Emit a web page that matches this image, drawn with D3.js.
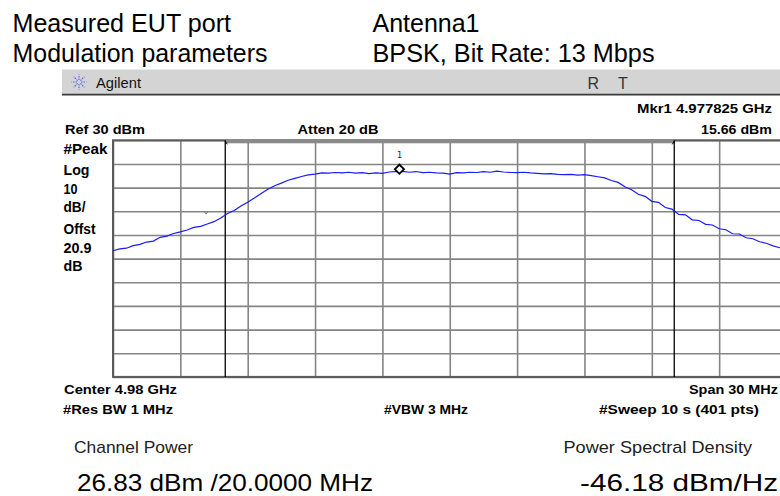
<!DOCTYPE html>
<html>
<head>
<meta charset="utf-8">
<script src="https://cdn.jsdelivr.net/npm/d3@7"></script>
<style>
html,body{margin:0;padding:0;background:#fff;}
svg{display:block;}
</style>
</head>
<body>
<script>
// ---- data ----
const freqMHz = [
4965.0,4965.3,4965.6,4965.9,4966.2,4966.5,4966.8,4967.1,4967.4,4967.7,
4968.0,4968.3,4968.6,4968.9,4969.2,4969.5,4969.8,4970.1,4970.4,4970.7,
4971.0,4971.3,4971.6,4971.9,4972.2,4972.5,4972.8,4973.1,4973.4,4973.7,
4974.0,4974.3,4974.6,4974.9,4975.2,4975.5,4975.8,4976.1,4976.4,4976.7,
4977.0,4977.3,4977.6,4977.9,4978.2,4978.5,4978.8,4979.1,4979.4,4979.7,
4980.0,4980.3,4980.6,4980.9,4981.2,4981.5,4981.8,4982.1,4982.4,4982.7,
4983.0,4983.3,4983.6,4983.9,4984.2,4984.5,4984.8,4985.1,4985.4,4985.7,
4986.0,4986.3,4986.6,4986.9,4987.2,4987.5,4987.8,4988.1,4988.4,4988.7,
4989.0,4989.3,4989.6,4989.9,4990.2,4990.5,4990.8,4991.1,4991.4,4991.7,
4992.0,4992.3,4992.6,4992.9,4993.2,4993.5,4993.8,4994.1,4994.4,4994.7,
4995.0];
const levelDbm = [
-16.7,-15.9,-15.6,-14.5,-14.0,-13.0,-12.6,-11.0,-10.5,-9.4,
-8.7,-7.9,-6.8,-6.4,-5.4,-4.4,-2.8,-0.9,0.3,2.2,
3.8,5.6,7.5,9.3,10.8,11.9,13.1,13.9,14.7,15.4,
15.7,16.2,16.1,16.4,16.2,16.5,16.1,16.3,15.9,16.2,
16.0,16.6,16.8,16.9,16.5,16.8,16.3,16.5,16.2,16.1,
15.7,16.3,16.2,16.5,16.4,16.8,16.5,17.0,16.6,16.4,
16.3,16.5,16.2,16.0,15.8,15.9,15.6,15.5,15.6,15.3,
15.5,15.1,14.6,14.1,13.0,12.2,10.4,9.1,7.2,6.3,
4.2,3.8,1.6,0.9,-1.3,-1.5,-3.6,-3.9,-5.5,-5.8,
-7.4,-7.8,-9.5,-9.6,-11.2,-11.6,-12.9,-13.5,-14.6,-15.4,
-16.3];
const gridFreqs = [4965,4968,4971,4974,4977,4980,4983,4986,4989,4992,4995];
const gridLevels = [30,20,10,0,-10,-20,-30,-40,-50,-60,-70];
const channelEdges = [4970, 4990];
const markerFreq = 4977.825, markerLevel = 15.66;
const auxMarkFreq = 4969.15, auxMarkLevel = -0.8;
const leftLabels = ["#Peak","Log","10","dB/","Offst","20.9","dB"];

// ---- drawing ----
const W = 780, H = 496;
const svg = d3.select("body").append("svg").attr("width", W).attr("height", H);

const x = d3.scaleLinear().domain([4965, 4995]).range([113, 786.5]);
const y = d3.scaleLinear().domain([30, -70]).range([140.3, 376.9]);

function txt(s, px, py, o) {
  o = o || {};
  const t = svg.append("text").text(s)
    .attr("x", px).attr("y", py)
    .attr("font-family", o.family || "'Liberation Sans', Arial, sans-serif")
    .attr("font-size", o.size || 13)
    .attr("font-weight", o.weight || "normal")
    .attr("fill", o.fill || "#000")
    .attr("text-anchor", o.anchor || "start");
  if (o.len) t.attr("textLength", o.len).attr("lengthAdjust", "spacingAndGlyphs");
  return t;
}

// header texts
txt("Measured EUT port", 12.5, 31.5, {size: 25, len: 218.5});
txt("Antenna1", 372.5, 31.5, {size: 25, len: 107});
txt("Modulation parameters", 12.5, 62, {size: 25, len: 255});
txt("BPSK, Bit Rate: 13 Mbps", 372.5, 62, {size: 25, len: 282});

// instrument title bar
svg.append("rect").attr("x", 62).attr("y", 69.5).attr("width", W - 62).attr("height", 25)
  .attr("fill", "#d4d4d4");
svg.append("line").attr("x1", 62).attr("x2", W).attr("y1", 94.6).attr("y2", 94.6)
  .attr("stroke", "#3a3a3a").attr("stroke-width", 1.6);
// agilent spark
const star = svg.append("g").attr("transform", "translate(79,82)");
for (let i = 0; i < 8; i++) {
  const a = i * Math.PI / 4;
  star.append("line")
    .attr("x1", Math.cos(a) * 2).attr("y1", Math.sin(a) * 2)
    .attr("x2", Math.cos(a) * 7.5).attr("y2", Math.sin(a) * 7.5)
    .attr("stroke", "#5a5af0").attr("stroke-width", 1.1).attr("stroke-dasharray", "1.5,1");
}
txt("Agilent", 96, 88, {size: 15, len: 45, fill: "#111"});
txt("R", 587.5, 88.5, {size: 16, fill: "#333"});
txt("T", 618, 88.5, {size: 16, fill: "#333"});

// bold annotation labels
const bold = {size: 13.5, weight: "bold", family: "'Liberation Sans Narrow','Liberation Sans',Arial,sans-serif"};
txt("Mkr1  4.977825 GHz", 772, 113, Object.assign({}, bold, {anchor: "end", len: 135}));
txt("15.66 dBm", 772, 133.5, Object.assign({}, bold, {anchor: "end", len: 71}));
txt("Ref 30 dBm", 65, 133.5, Object.assign({}, bold, {len: 80}));
txt("Atten 20 dB", 297.5, 133.5, Object.assign({}, bold, {len: 81}));
const leftY = [154, 175, 193.5, 211.5, 234, 252.5, 270.5];
const leftLen = [44, 26, 14, 22, 32, 28, 19];
leftLabels.forEach((s, i) => txt(s, 63.5, leftY[i], Object.assign({}, bold, {size: 14, len: leftLen[i]})));
txt("Center 4.98 GHz", 64, 394.3, Object.assign({}, bold, {len: 113}));
txt("Span 30 MHz", 778, 394.3, Object.assign({}, bold, {anchor: "end", len: 89}));
txt("#Res BW 1 MHz", 63, 414.3, Object.assign({}, bold, {len: 110}));
txt("#VBW 3 MHz", 384, 414.3, Object.assign({}, bold, {len: 84}));
txt("#Sweep 10 s (401 pts)", 599, 414.3, Object.assign({}, bold, {len: 160}));

// plot frame background
svg.append("rect").attr("x", x(4965)).attr("y", y(30))
  .attr("width", x(4995) - x(4965)).attr("height", y(-70) - y(30))
  .attr("fill", "#fff");

// grid via axes
const plotH = y(-70) - y(30), plotW = x(4995) - x(4965);
const gx = svg.append("g").attr("transform", `translate(0,${y(-70)})`)
  .call(d3.axisBottom(x).tickValues(gridFreqs).tickSize(-plotH).tickFormat(""));
const gy = svg.append("g").attr("transform", `translate(${x(4965)},0)`)
  .call(d3.axisLeft(y).tickValues(gridLevels).tickSize(-plotW).tickFormat(""));
[gx, gy].forEach(g => {
  g.select(".domain").remove();
  g.selectAll(".tick line").attr("stroke", "#858585").attr("stroke-width", 1.6);
});

// frame border
svg.append("rect").attr("x", x(4965)).attr("y", y(30))
  .attr("width", plotW).attr("height", plotH)
  .attr("fill", "none").attr("stroke", "#5a5a5a").attr("stroke-width", 2);

// channel power bracket on top
svg.append("rect").attr("x", x(channelEdges[0])).attr("y", y(30) - 0.5)
  .attr("width", x(channelEdges[1]) - x(channelEdges[0])).attr("height", 3.5)
  .attr("fill", "#8a8a8a");
channelEdges.forEach(f => {
  svg.append("line").attr("x1", x(f)).attr("x2", x(f)).attr("y1", y(30)).attr("y2", y(-70))
    .attr("stroke", "#000").attr("stroke-width", 1.3);
  svg.append("line").attr("x1", x(f)).attr("x2", x(f) + (f === channelEdges[0] ? 2 : -2))
    .attr("y1", y(30) + 1).attr("y2", y(30) + 4)
    .attr("stroke", "#000").attr("stroke-width", 1);
});

// trace
const pts = freqMHz.map((f, i) => [f, levelDbm[i]]);
svg.append("path").datum(pts)
  .attr("d", d3.line().x(d => x(d[0])).y(d => y(d[1])))
  .attr("fill", "none").attr("stroke", "#1c1cf5").attr("stroke-width", 1.2);

// small auxiliary mark
svg.append("path")
  .attr("d", `M${x(auxMarkFreq) - 2},${y(auxMarkLevel) - 2} L${x(auxMarkFreq)},${y(auxMarkLevel) + 1} L${x(auxMarkFreq) + 2},${y(auxMarkLevel) - 2}`)
  .attr("fill", "none").attr("stroke", "#666").attr("stroke-width", 0.8);

// marker 1
svg.append("path")
  .attr("d", d3.symbol().type(d3.symbolSquare).size(42)())
  .attr("transform", `translate(${x(markerFreq) - 1.5},${y(markerLevel) - 5}) rotate(45)`)
  .attr("fill", "#fff").attr("stroke", "#000").attr("stroke-width", 1.8);
txt("1", x(markerFreq) - 1.5, y(markerLevel) - 16, {size: 9, anchor: "middle", fill: "#333", family: "'DejaVu Sans Mono', monospace"});

// bottom results
txt("Channel Power", 74, 453.3, {size: 17, len: 119, fill: "#222"});
txt("Power Spectral Density", 563.5, 453.3, {size: 17, len: 188.5, fill: "#222"});
txt("26.83 dBm /20.0000 MHz", 77, 490.6, {size: 24, len: 296});
txt("-46.18 dBm/Hz", 580, 490.6, {size: 24, len: 198});
</script>
</body>
</html>
